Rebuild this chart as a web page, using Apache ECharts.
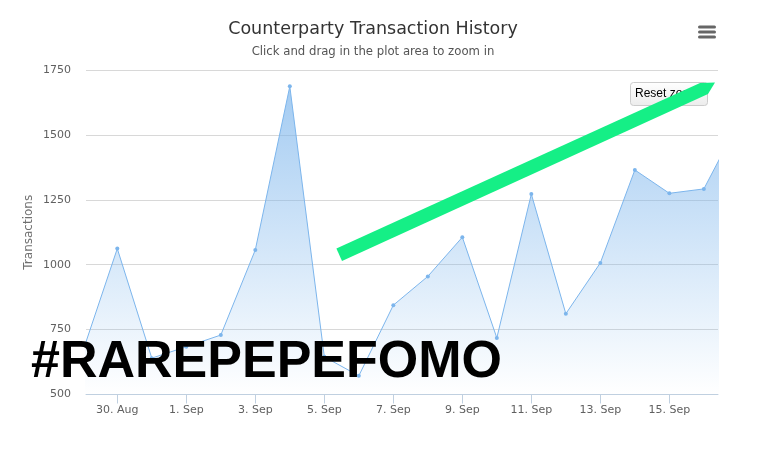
<!DOCTYPE html>
<html>
<head>
<meta charset="utf-8">
<script src="https://cdn.jsdelivr.net/npm/echarts@6/dist/echarts.min.js"></script>
<style>
html,body{margin:0;padding:0;background:#fff;}
#chart{width:759px;height:449px;}
</style>
</head>
<body>
<div id="chart"></div>
<script>
// ---- data ----
const dates = ['2016-08-29','2016-08-30','2016-08-31','2016-09-01','2016-09-02','2016-09-03','2016-09-04',
  '2016-09-05','2016-09-06','2016-09-07','2016-09-08','2016-09-09','2016-09-10','2016-09-11',
  '2016-09-12','2016-09-13','2016-09-14','2016-09-15','2016-09-16','2016-09-17'];
const transactions = [666, 1062, 640, 684, 729, 1057, 1687, 645, 572, 844, 955, 1106, 718, 1272,
  811, 1007, 1365, 1275, 1292, 1546];
const tickDates = ['2016-08-30','2016-09-01','2016-09-03','2016-09-05','2016-09-07','2016-09-09',
  '2016-09-11','2016-09-13','2016-09-15'];
const tickLabels = ['30. Aug','1. Sep','3. Sep','5. Sep','7. Sep','9. Sep','11. Sep','13. Sep','15. Sep'];
const yTicks = [500, 750, 1000, 1250, 1500, 1750];

const DAY = 86400000;
function ts(s){ const p = s.split('-').map(Number); return Date.UTC(p[0], p[1]-1, p[2]); }
const ORIGIN = ts(tickDates[0]);
function dayNum(s){ return Math.round((ts(s) - ORIGIN) / DAY); }
const seriesData = dates.map((d,i)=>[dayNum(d), transactions[i]]);
const tickDays = tickDates.map(dayNum);
const labelMap = {};
tickDays.forEach((t,i)=>{ labelMap[t] = tickLabels[i]; });

const font = 'DejaVu Sans';
const chart = echarts.init(document.getElementById('chart'), null, {renderer:'canvas'});
chart.setOption({
  animation:false,
  backgroundColor:'#ffffff',
  title:[
    {text:'Counterparty Transaction History', left:368, top:15, textAlign:'center',
     textStyle:{fontFamily:font, fontSize:17.5, fontWeight:'normal', color:'#333333'}},
    {text:'Click and drag in the plot area to zoom in', left:368, top:40.5, textAlign:'center',
     textStyle:{fontFamily:font, fontSize:11.7, fontWeight:'normal', color:'#555555'}}
  ],
  grid:{left:86, top:70, width:632, height:324.5, containLabel:false},
  xAxis:{
    type:'value',
    min: -0.907,
    max: 17.41,
    axisLine:{show:true, onZero:false, lineStyle:{color:'#C0D0E0', width:1}},
    axisTick:{show:true, customValues: tickDays, length:9, lineStyle:{color:'#C0D0E0'}},
    axisLabel:{customValues: tickDays, margin:10, fontFamily:font, fontSize:11, color:'#606060',
      formatter:(v)=> labelMap[Math.round(v)] || ''},
    splitLine:{show:false}
  },
  yAxis:{
    type:'value',
    min:yTicks[0], max:yTicks[yTicks.length-1], interval:250,
    name:'Transactions', nameLocation:'middle', nameRotate:90, nameGap:51, nameMoveOverlap:false,
    nameTextStyle:{fontFamily:font, fontSize:12, color:'#707070'},
    axisLine:{show:false}, axisTick:{show:false},
    axisLabel:{margin:15, fontFamily:font, fontSize:11, color:'#606060', formatter:(v)=>String(v)},
    splitLine:{show:true, lineStyle:{color:'#D8D8D8', width:1}}
  },
  series:[{
    type:'line',
    data:seriesData,
    clip:true,
    symbol:'circle', symbolSize:4, showSymbol:true, showAllSymbol:true,
    itemStyle:{color:'#7cb5ec'},
    lineStyle:{color:'#7cb5ec', width:1},
    areaStyle:{color:new echarts.graphic.LinearGradient(0,0,0,1,[
      {offset:0, color:'rgba(124,181,236,1)'},
      {offset:1, color:'rgba(124,181,236,0)'}
    ])},
    z:2
  }],
  graphic:[
    // hamburger menu
    {type:'line', z:50, shape:{x1:699.5,y1:27,x2:714.5,y2:27}, style:{stroke:'#666666', lineWidth:3, lineCap:'round'}},
    {type:'line', z:50, shape:{x1:699.5,y1:32,x2:714.5,y2:32}, style:{stroke:'#666666', lineWidth:3, lineCap:'round'}},
    {type:'line', z:50, shape:{x1:699.5,y1:37,x2:714.5,y2:37}, style:{stroke:'#666666', lineWidth:3, lineCap:'round'}},
    // reset zoom button
    {type:'rect', z:50, shape:{x:630.5,y:82.5,width:77,height:23,r:3},
     style:{fill:new echarts.graphic.LinearGradient(0,0,0,1,[{offset:0,color:'#ffffff'},{offset:1,color:'#ececec'}]),
            stroke:'#cccccc', lineWidth:1}},
    {type:'text', z:51, style:{x:635, y:94, text:'Reset zoom', fontFamily:'Liberation Sans', fontSize:12,
      fill:'#000000', align:'left', verticalAlign:'middle'}},
    // green arrow
    {type:'polygon', z:60, shape:{points:[[336.4,248.5],[700,83],[715,82.5],[708,94],[342,260.9]]},
     style:{fill:'#15ef86'}},
    // overlay text
    {type:'text', z:70, style:{x:31, y:362.5, text:'#RAREPEPEFOMO', fontFamily:'Liberation Sans',
      fontWeight:'bold', fontSize:52, fill:'#000000', align:'left', verticalAlign:'middle'}}
  ]
});
</script>
</body>
</html>
